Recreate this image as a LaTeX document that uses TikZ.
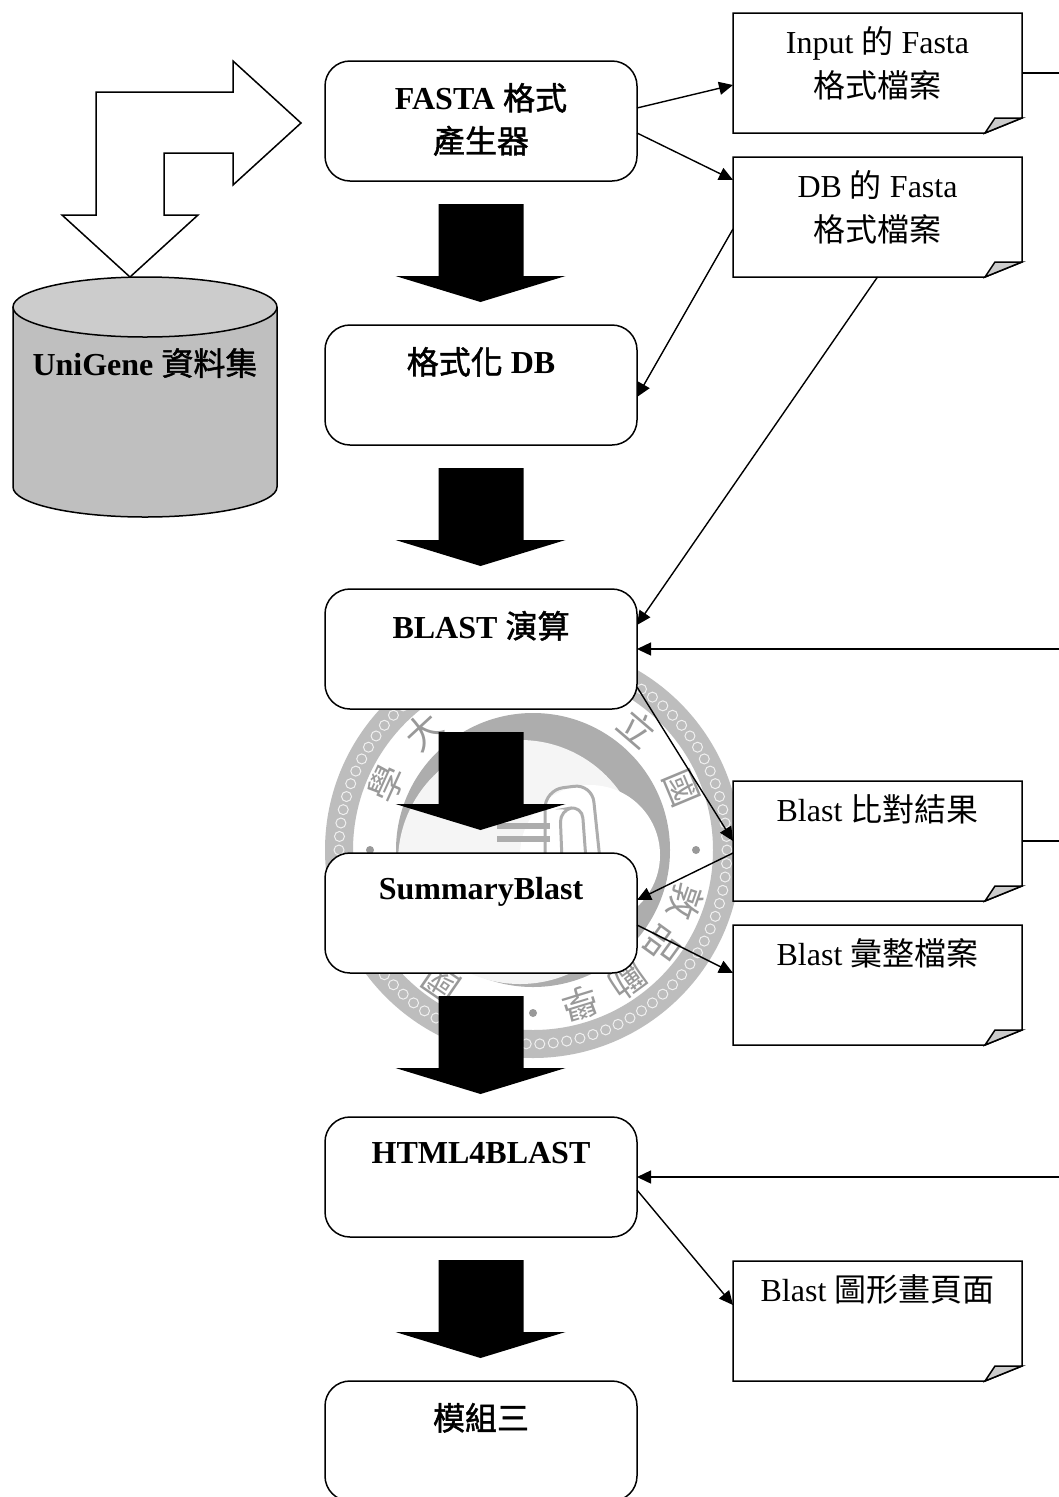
\documentclass[tikz,border=0pt]{standalone}
\usepackage{fontspec}
\setmainfont{Liberation Serif}
\newfontfamily\cjk{Noto Sans CJK TC}
\newfontfamily\cjkb[FakeBold=1.5]{Noto Sans CJK TC}
\usetikzlibrary{arrows.meta,calc}
\newcommand{\zh}[1]{{\cjk #1}}
\newcommand{\zhb}[1]{{\cjkb #1}}
\definecolor{cylbody}{gray}{0.75}
\definecolor{cyltop}{gray}{0.8}
\definecolor{wmring}{gray}{0.74}
\definecolor{wmdark}{gray}{0.68}
\definecolor{wmtext}{gray}{0.6}
\tikzset{
  process/.style={draw, fill=white, line width=1.5pt, rounded corners=25pt, outer sep=0pt,
    minimum width=312pt, minimum height=120pt, align=center, font=\fontsize{32}{43}\selectfont},
  docbox/.style={fill=white, outer sep=0pt, inner sep=0pt,
    minimum width=289pt, minimum height=120pt, align=center, font=\fontsize{32}{44}\selectfont},
  conn/.style={line width=1.4pt, -{Triangle[length=14pt,width=13pt]}},
  plainline/.style={line width=1.4pt},
  outline/.style={line width=1.5pt, line join=miter}
}
\begin{document}
\begin{tikzpicture}[x=1pt, y=-1pt]
    \clip (0,0) rectangle (1059,1497);
    \fill[white] (0,0) rectangle (1059,1497);

    % Seal behind the boxes
    \coordinate (W1) at (533,850);
    \fill[wmring, even odd rule] (W1) circle (208pt) circle (180pt);
    \foreach \a in {0,4,...,356} {
      \draw[gray!12, line width=1pt] ($(W1)+(\a:194pt)$) circle (5pt);
    }
    \fill[wmdark] (W1) circle (137pt);
    \fill[gray!8] (520,862) circle (122pt);
    \fill[white] (590,855) circle (70pt);
    \draw[wmdark, line width=3pt, rounded corners=18pt] (545,860) -- (545,790) -- (592,784) -- (600,860);
    \draw[wmdark, line width=3pt, rounded corners=12pt] (562,860) -- (560,810) -- (582,806) -- (586,860);
    \fill[wmdark] (497,823) rectangle (550,829);
    \fill[wmdark] (497,836) rectangle (550,842);
    \foreach \a/\c in {155.6/學,132.7/大,49.4/立,22.6/國,-19/敦,-36/品,-54/勵,-73/學,-124.6/國} {
      \node[text=wmtext, rotate=\a-90, font=\fontsize{36}{36}\cjk] at ($(W1)+(\a:161pt)$) {\c};
    }
    \foreach \a in {0,180,-90} {
      \fill[wmtext] ($(W1)+(\a:163pt)$) circle (4pt);
    }

    % Left column of nodes
    \node[process] (P1) at (481,121) {\textbf{FASTA} \zhb{格式}\\\zhb{產生器}\\[-37pt]\mbox{}};
    \node[process] (P2) at (481,385) {\zhb{格式化} \textbf{DB}\\\mbox{}\\[-37pt]\mbox{}};
    \node[process] (P3) at (481,649) {\textbf{BLAST} \zhb{演算}\\\mbox{}\\[-37pt]\mbox{}};
    \node[process] (P4) at (481,913) {\textbf{SummaryBlast}\\\mbox{}\\[-37pt]\mbox{}};
    \node[process] (P5) at (481,1177) {\textbf{HTML4BLAST}\\\mbox{}\\[-37pt]\mbox{}};
    \node[process] (P6) at (481,1441) {\zhb{模組三}\\\mbox{}\\[-37pt]\mbox{}};

    % Right column of nodes
    \node[docbox] (F1) at (877.5,73) {Input \zh{的} Fasta\\\zh{格式檔案}\\[-22pt]\mbox{}};
    \node[docbox] (F2) at (877.5,217) {DB \zh{的} Fasta\\\zh{格式檔案}\\[-22pt]\mbox{}};
    \node[docbox] (F3) at (877.5,841) {Blast \zh{比對結果}\\\mbox{}\\[-22pt]\mbox{}};
    \node[docbox] (F4) at (877.5,985) {Blast \zh{彙整檔案}\\\mbox{}\\[-22pt]\mbox{}};
    \node[docbox] (F5) at (877.5,1321) {Blast \zh{圖形畫頁面}\\\mbox{}\\[-22pt]\mbox{}};

    % Folded corners of the right column
    \foreach \n in {F1,F2,F3,F4,F5} {
      \draw[outline] (\n.north west) -- (\n.north east) -- ([yshift=15pt]\n.south east)
        -- ([xshift=-37pt]\n.south east) -- (\n.south west) -- cycle;
      \draw[outline, fill=cyltop] ([xshift=-37pt]\n.south east) -- ([xshift=-27pt,yshift=15pt]\n.south east)
        .. controls ([xshift=-15pt,yshift=15pt]\n.south east) .. ([yshift=15pt]\n.south east) -- cycle;
    }

    % Database on the left
    \draw[outline, fill=cylbody] (13,307) -- (13,487) arc (180:360:132 and -30) -- (277,307);
    \draw[outline, fill=cyltop] (145,307) ellipse (132 and 30);
    \node[font=\fontsize{32}{43}\selectfont] (U1) at (145,363) {\textbf{UniGene} \zhb{資料集}};

    % Bent double arrow
    \draw[outline, fill=white] (301,123) -- (233,61) -- (233,92) -- (96,92) -- (96,215) -- (62,215)
      -- (130,277) -- (198,215) -- (164,215) -- (164,153) -- (233,153) -- (233,185) -- cycle;

    % Block arrows between the left column
    \foreach \n in {P1,P2,P3,P4,P5} {
      \fill ([xshift=-42.5pt,yshift=-23pt]\n.south) -- ++(85,0) -- ++(0,72) -- ++(42,0)
        -- ++(-85,26) -- ++(-85,-26) -- ++(43,0) -- cycle;
    }

    % Free ends on the right border
    \coordinate (R1) at (1059,73);
    \coordinate (R2) at (1059,649);
    \coordinate (R3) at (1059,841);
    \coordinate (R4) at (1059,1177);

    % Edges between nodes
    \draw[conn] ([yshift=13pt]P1.east) -- ([yshift=-12pt]F1.west);
    \draw[conn] ([yshift=-12pt]P1.east) -- ([yshift=37pt]F2.west);
    \draw[conn] ([yshift=-12pt]F2.west) -- ([yshift=-12pt]P2.east);
    \draw[conn] (F2.south) -- ([yshift=24pt]P3.east);
    \draw[conn] ([yshift=-38pt]P3.east) -- (F3.west);
    \draw[conn] ([yshift=-12pt]F3.west) -- ([yshift=13pt]P4.east);
    \draw[conn] ([yshift=-12pt]P4.east) -- ([yshift=12pt]F4.west);
    \draw[conn] ([yshift=-13pt]P5.east) -- ([yshift=16pt]F5.west);

    \draw[plainline] (F1.east) -- (R1);
    \draw[plainline] (F3.east) -- (R3);
    \draw[conn] (R2) -- (P3.east);
    \draw[conn] (R4) -- (P5.east);
\end{tikzpicture}
\end{document}
